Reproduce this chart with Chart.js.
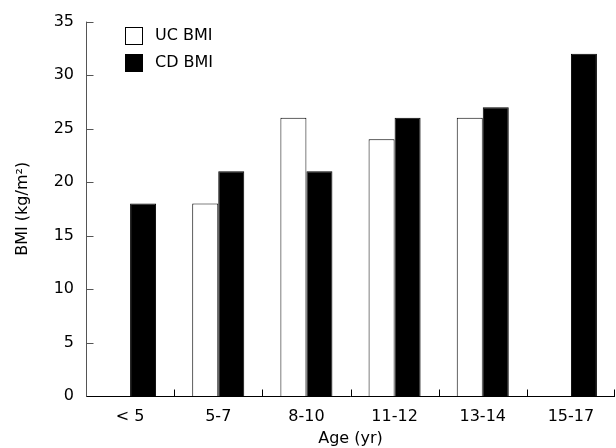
<!DOCTYPE html>
<html>
<head>
<meta charset="utf-8">
<script src="https://cdn.jsdelivr.net/npm/chart.js@4.4.1/dist/chart.umd.min.js"></script>
<style>
  html, body { margin: 0; padding: 0; background: #fff; }
  #wrap { width: 616px; height: 448px; }
</style>
</head>
<body>
<div id="wrap"><canvas id="bmiChart" width="616" height="448"></canvas></div>
<script>
// data
const ageGroups = ['< 5', '5-7', '8-10', '11-12', '13-14', '15-17'];
const ucBmi = [null, 18, 26, 24, 26, null];
const cdBmi = [18, 21, 21, 26, 27, 32];
const yTicks = [0, 5, 10, 15, 20, 25, 30, 35];

const FONT = 'DejaVu Sans';

// axis lines with short inward tick marks, and legend in the top-left corner
const axisMarks = {
  id: 'axisMarks',
  afterDraw(chart) {
    const ctx = chart.ctx;
    const x = chart.scales.x;
    const y = chart.scales.y;
    const area = chart.chartArea;
    const ax = Math.round(area.left) + 0.5;
    const ay = Math.round(area.bottom) + 0.5;
    ctx.save();
    ctx.lineWidth = 1;

    ctx.strokeStyle = '#555';
    ctx.beginPath();
    ctx.moveTo(ax, area.top);
    ctx.lineTo(ax, ay);
    ctx.stroke();
    yTicks.forEach(v => {
      const py = Math.round(y.getPixelForValue(v)) + 0.5;
      ctx.beginPath();
      ctx.moveTo(ax, py);
      ctx.lineTo(ax + 7, py);
      ctx.stroke();
    });

    ctx.strokeStyle = '#000';
    ctx.beginPath();
    ctx.moveTo(ax, ay);
    ctx.lineTo(area.right, ay);
    ctx.stroke();
    const half = (x.getPixelForValue(1) - x.getPixelForValue(0)) / 2;
    for (let i = 1; i <= ageGroups.length; i++) {
      const px = Math.min(Math.round(x.getPixelForValue(i) - half), Math.round(area.right) - 1) + 0.5;
      ctx.beginPath();
      ctx.moveTo(px, ay);
      ctx.lineTo(px, ay - 7);
      ctx.stroke();
    }

    // legend
    const items = [
      { label: 'UC BMI', fill: '#fff' },
      { label: 'CD BMI', fill: '#000' }
    ];
    ctx.font = '16px ' + FONT;
    ctx.textBaseline = 'middle';
    items.forEach((it, i) => {
      const top = 27 + i * 27;
      ctx.fillStyle = it.fill;
      ctx.fillRect(125, top, 18, 18);
      ctx.strokeStyle = '#000';
      ctx.strokeRect(125.5, top + 0.5, 17, 17);
      ctx.fillStyle = '#000';
      ctx.fillText(it.label, 155, top + 9);
    });
    ctx.restore();
  }
};

const ctxBmi = document.getElementById('bmiChart').getContext('2d');

new Chart(ctxBmi, {
  type: 'bar',
  data: {
    labels: ageGroups,
    datasets: [
      {
        label: 'UC BMI',
        data: ucBmi,
        backgroundColor: '#fff',
        borderColor: '#000',
        borderWidth: 1
      },
      {
        label: 'CD BMI',
        data: cdBmi,
        backgroundColor: '#000',
        borderColor: '#000',
        borderWidth: 1
      }
    ]
  },
  options: {
    responsive: false,
    animation: false,
    devicePixelRatio: 1,
    layout: { padding: { top: 18, right: 1, left: 0, bottom: 0 } },
    datasets: {
      bar: { categoryPercentage: 0.59, barPercentage: 1 }
    },
    plugins: {
      legend: { display: false },
      tooltip: { enabled: false }
    },
    scales: {
      x: {
        offset: true,
        grid: { display: false, drawTicks: false },
        border: { display: false },
        ticks: { color: '#000', font: { family: FONT, size: 16 }, padding: 11, maxRotation: 0 },
        title: {
          display: true,
          text: 'Age (yr)',
          color: '#000',
          font: { family: FONT, size: 16 },
          padding: { top: 1, bottom: 0 }
        },
        afterFit(scale) { scale.height = 52; }
      },
      y: {
        min: 0,
        max: 35,
        afterBuildTicks(scale) { scale.ticks = yTicks.map(v => ({ value: v })); },
        grid: { display: false, drawTicks: false },
        border: { display: false },
        ticks: { color: '#000', font: { family: FONT, size: 16 }, padding: 12 },
        title: {
          display: true,
          text: 'BMI (kg/m²)',
          color: '#000',
          font: { family: FONT, size: 16 },
          padding: { top: 13, bottom: 6 }
        },
        afterFit(scale) { scale.width = 86; }
      }
    }
  },
  plugins: [axisMarks]
});
</script>
</body>
</html>
